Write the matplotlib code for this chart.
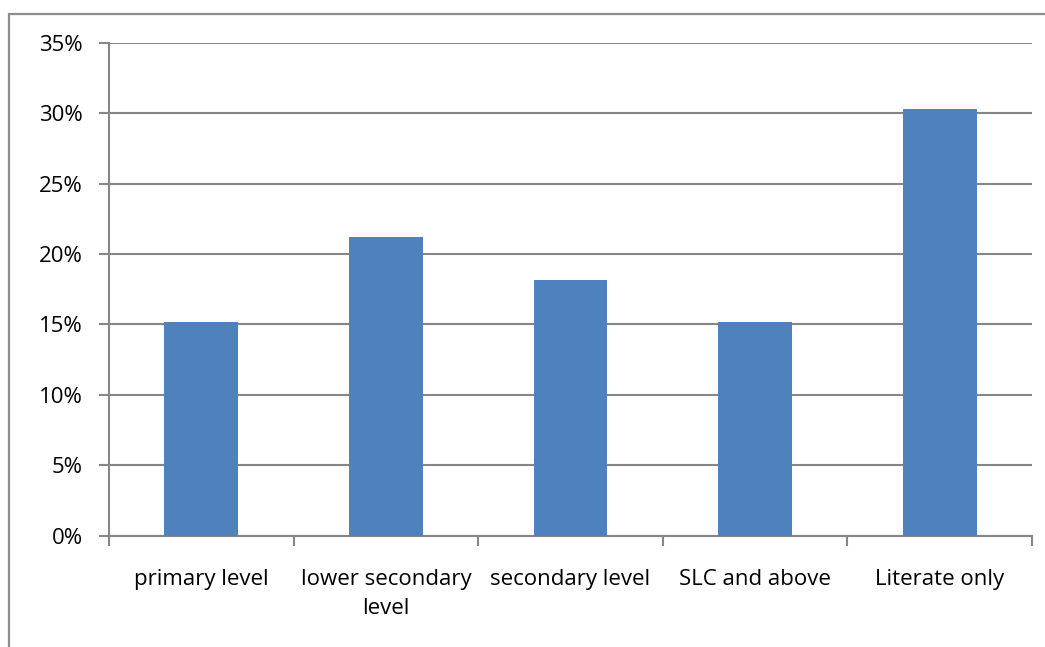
import matplotlib
matplotlib.use("Agg")
import matplotlib.pyplot as plt
from matplotlib.patches import Rectangle
from matplotlib.ticker import FuncFormatter, MultipleLocator

categories = ["primary level", "lower secondary\nlevel", "secondary level",
              "SLC and above", "Literate only"]
shares = [5 / 33, 7 / 33, 6 / 33, 5 / 33, 10 / 33]

W, H = 1045, 647
fig = plt.figure(figsize=(W / 100, H / 100), dpi=100)
plt.rcParams['font.family'] = ['Open Sans', 'DejaVu Sans']

# chart frame, runs past the right and bottom edges
fig.patches.append(Rectangle((9 / W, -0.1), 1.2, 1.1 - 14 / H,
                             transform=fig.transFigure, fill=False,
                             edgecolor="#8c8c8c", lw=1.6))

ax = fig.add_axes([109 / W, 1 - 535.5 / H, (1032 - 109) / W, (535.5 - 43) / H])
x = range(len(categories))
ax.bar(x, shares, width=0.4, color="#4f81bd", zorder=3)
ax.set_xlim(-0.5, len(categories) - 0.5)
ax.set_ylim(0, 0.35)

ax.yaxis.set_major_locator(MultipleLocator(0.05))
ax.yaxis.set_major_formatter(FuncFormatter(lambda v, _: f"{v * 100:.0f}%"))
ax.grid(axis="y", color="#868686", lw=1.5, zorder=0)

for s in ["top", "right"]:
    ax.spines[s].set_visible(False)
for s in ["left", "bottom"]:
    ax.spines[s].set_color("#868686")
    ax.spines[s].set_linewidth(1.5)

ax.set_xticks([i - 0.5 for i in range(len(categories) + 1)], minor=False)
ax.set_xticklabels([])
ax.set_xticks(list(x), minor=True)
ax.set_xticklabels(categories, minor=True, fontsize=16, linespacing=1.5)
ax.tick_params(axis="x", which="major", length=7, width=1.5, color="#868686",
               direction="out")
ax.tick_params(axis="x", which="minor", length=0, pad=24)
ax.tick_params(axis="y", length=7, width=1.5, color="#868686",
               labelsize=16, pad=12)
for t in ax.get_xticklabels(minor=True):
    t.set_verticalalignment("top")
    t.set_horizontalalignment("center")

fig.savefig("out.png", dpi=100)
